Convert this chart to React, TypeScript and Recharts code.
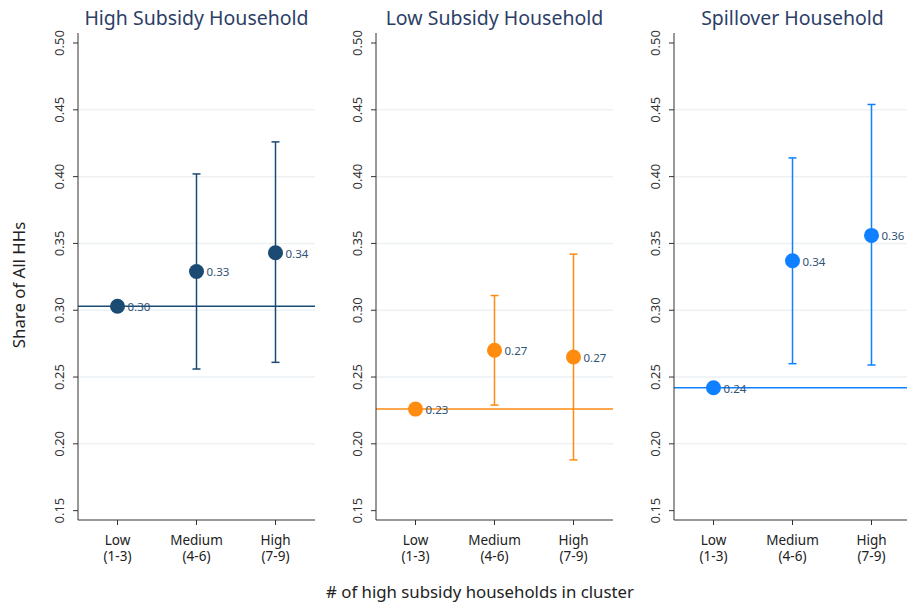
import React from 'react';
import {
  ComposedChart,
  Scatter,
  XAxis,
  YAxis,
  ErrorBar,
  ReferenceLine } from
'recharts';

const categories = ['Low|(1-3)', 'Medium|(4-6)', 'High|(7-9)'];
const panelTitles = ['High Subsidy Household', 'Low Subsidy Household', 'Spillover Household'];
const panelColors = ['#1b4a73', '#ff8b0f', '#0f80ff'];

// point estimates per panel (Low, Medium, High)
const highSubsidy = [0.303, 0.329, 0.343];
const lowSubsidy = [0.226, 0.270, 0.265];
const spillover = [0.242, 0.337, 0.356];

// 95% CI bounds (Low group has none)
const highSubsidyLo = [null, 0.256, 0.261];
const highSubsidyHi = [null, 0.402, 0.426];
const lowSubsidyLo = [null, 0.229, 0.188];
const lowSubsidyHi = [null, 0.311, 0.342];
const spilloverLo = [null, 0.260, 0.259];
const spilloverHi = [null, 0.414, 0.454];

const yTicks = [0.15, 0.2, 0.25, 0.3, 0.35, 0.4, 0.45, 0.5];
const gridValues = [0.2, 0.25, 0.3, 0.35, 0.4, 0.45];

const FONT = '"Noto Sans", sans-serif';
const PLOT_TOP = 33;
const PLOT_BOTTOM = 520;
const PLOT_W = 237;
const Y_AXIS_W = 40;
const plotLefts = [78, 376, 674];

function buildRows(vals: number[], lo: (number | null)[], hi: (number | null)[]) {
  return categories.map((c, i) => ({
    cat: c,
    value: vals[i],
    err: lo[i] == null ? [0, 0] : [vals[i] - (lo[i] as number), (hi[i] as number) - vals[i]]
  }));
}

const panels = [
buildRows(highSubsidy, highSubsidyLo, highSubsidyHi),
buildRows(lowSubsidy, lowSubsidyLo, lowSubsidyHi),
buildRows(spillover, spilloverLo, spilloverHi)];


function YTick(props: any) {
  const { x, y, payload } = props;
  return (
    <text
      transform={`translate(${x},${y}) rotate(-90)`}
      textAnchor="middle"
      fontSize={13}
      fontFamily={FONT}
      fill="#333">
      {payload.value.toFixed(2)}
    </text>);

}

function XTick(props: any) {
  const { x, y, payload } = props;
  const [a, b] = String(payload.value).split('|');
  return (
    <g>
      <text x={x} y={y + 18} textAnchor="middle" fontSize={13.5} fontFamily={FONT} fill="#222">{a}</text>
      <text x={x} y={y + 34} textAnchor="middle" fontSize={13.5} fontFamily={FONT} fill="#222">{b}</text>
    </g>);

}

function Panel({ idx }: {idx: number;}) {
  const data = panels[idx];
  const color = panelColors[idx];
  const dot = (p: any) => {
    if (p.cx == null || p.cy == null) return <g />;
    return (
      <g>
        <circle cx={p.cx} cy={p.cy} r={7.5} fill={color} />
        <text
          x={p.cx + 10}
          y={p.cy + 5}
          fontSize={11.5}
          fontFamily={FONT}
          fill="#2f5375">
          {p.payload.value.toFixed(2)}
        </text>
      </g>);

  };
  const pad = PLOT_W / 6;
  return (
    <div style={{ position: 'absolute', left: plotLefts[idx] - Y_AXIS_W, top: 0 }}>
      <ComposedChart
        width={Y_AXIS_W + PLOT_W}
        height={608}
        data={data}
        margin={{ top: PLOT_TOP, right: 0, bottom: 608 - PLOT_BOTTOM - 50, left: 0 }}>
        {gridValues.map((g) =>
        <ReferenceLine key={g} y={g} stroke="#edf1f4" strokeWidth={1.5} />
        )}
        <XAxis
          dataKey="cat"
          type="category"
          height={50}
          padding={{ left: pad, right: pad }}
          tick={<XTick />}
          tickSize={5}
          axisLine={{ stroke: '#333' }}
          tickLine={{ stroke: '#333' }}
          interval={0} />
        <YAxis
          type="number"
          domain={[0.143, 0.5075]}
          allowDataOverflow
          ticks={yTicks}
          width={Y_AXIS_W}
          tick={<YTick />}
          tickSize={5}
          tickMargin={9}
          axisLine={{ stroke: '#333' }}
          tickLine={{ stroke: '#333' }} />
        <ReferenceLine y={data[0].value} stroke={color} strokeWidth={1.5} />
        <Scatter dataKey="value" shape={dot} isAnimationActive={false}>
          <ErrorBar dataKey="err" direction="y" width={4} stroke={color} strokeWidth={1.5} />
        </Scatter>
      </ComposedChart>
    </div>);

}

export default function App() {
  return (
    <div
      style={{
        position: 'absolute',
        left: 0,
        top: 0,
        width: 907,
        height: 608,
        overflow: 'hidden',
        background: '#fff'
      }}>
      {panels.map((_, i) =>
      <Panel key={i} idx={i} />
      )}
      <svg width={907} height={608} style={{ position: 'absolute', left: 0, top: 0, pointerEvents: 'none' }}>
        {panelTitles.map((t, i) =>
        <text
          key={t}
          x={plotLefts[i] + PLOT_W / 2}
          y={25}
          textAnchor="middle"
          fontSize={19.5}
          fontFamily={FONT}
          fill="#2d3e66">
            {t}
          </text>
        )}
        <text
          transform="translate(25,285) rotate(-90)"
          textAnchor="middle"
          fontSize={16.8}
          fontFamily={FONT}
          fill="#222">
          Share of All HHs
        </text>
        <text x={480} y={598} textAnchor="middle" fontSize={16.8} fontFamily={FONT} fill="#222">
          # of high subsidy households in cluster
        </text>
      </svg>
    </div>);

}
